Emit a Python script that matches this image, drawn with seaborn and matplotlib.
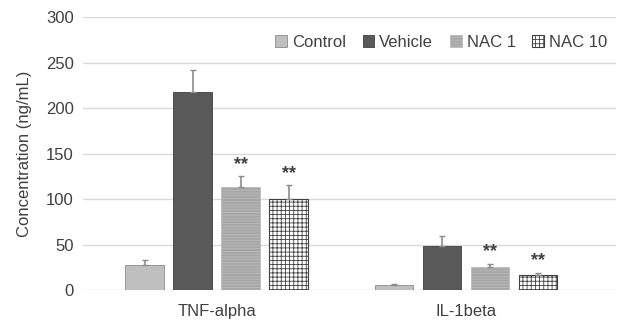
import numpy as np
import pandas as pd
import matplotlib
matplotlib.use("Agg")
import matplotlib.pyplot as plt
import seaborn as sns

cytokines = ["TNF-alpha", "IL-1beta"]
groups = ["Control", "Vehicle", "NAC 1", "NAC 10"]
tnf_mean = [28, 218, 113, 100]
tnf_err = [5, 24, 12, 15]
il1_mean = [5, 48, 25, 17]
il1_err = [1.5, 11, 4, 2]
stars = ["", "", "**", "**"]

df = pd.DataFrame({
    "cytokine": np.repeat(cytokines, len(groups)),
    "group": groups * 2,
    "conc": tnf_mean + il1_mean,
})
errs = {"TNF-alpha": tnf_err, "IL-1beta": il1_err}

sns.set_theme(style="white")
plt.rcParams["font.family"] = ["Liberation Sans", "DejaVu Sans"]
plt.rcParams["hatch.linewidth"] = 0.6

colors = ["#bfbfbf", "#595959", "#a6a6a6", "#ffffff"]

fig, ax = plt.subplots(figsize=(6.22, 3.27), dpi=100)
fig.subplots_adjust(left=0.134, right=0.99, top=0.948, bottom=0.113)

sns.barplot(data=df, x="cytokine", y="conc", hue="group", order=cytokines,
            hue_order=groups, palette=colors, width=0.77, gap=0.2,
            errorbar=None, ax=ax, zorder=2)
ax.get_legend().remove()

bar_sets = list(ax.containers)
for gi, cont in enumerate(bar_sets):
    for ci, bar in enumerate(cont):
        cx = bar.get_x() + bar.get_width() / 2
        h = bar.get_height()
        e = errs[cytokines[ci]][gi]
        if gi == 3:
            bar.set_facecolor("white")
            bar.set_edgecolor("#404040")
            bar.set_hatch("++++")
            bar.set_linewidth(0.8)
        elif gi == 2:
            bar.set_edgecolor("#bcbcbc")
            bar.set_hatch("------")
            bar.set_linewidth(0.6)
        else:
            bar.set_edgecolor("#8c8c8c" if gi == 0 else "#404040")
            bar.set_linewidth(0.6)
        ax.errorbar(cx, h, yerr=[[0], [e]], color="#8c8c8c", capsize=2.5,
                    elinewidth=1.2, capthick=1, zorder=3)
        if stars[gi]:
            ax.text(cx, h + e + 4, stars[gi], ha="center", va="bottom",
                    fontsize=13, fontweight="bold", color="#404040")

ax.set_ylim(0, 300)
ax.set_xlim(-0.534, 1.60)
ax.set_yticks(range(0, 301, 50))
ax.yaxis.grid(True, color="#d9d9d9", linewidth=1)
ax.set_axisbelow(True)
sns.despine(ax=ax, left=True, bottom=True)
ax.tick_params(axis="y", length=0, labelsize=12, colors="#404040", pad=7)
ax.tick_params(axis="x", length=0, labelsize=12, colors="#404040", pad=10)
ax.set_xlabel("")
ax.set_ylabel("Concentration (ng/mL)", fontsize=12, color="#404040", labelpad=10)

handles = [cont[0] for cont in bar_sets]
ax.legend(handles, groups, ncol=4, loc="upper right", bbox_to_anchor=(1.012, 0.99),
          frameon=False, fontsize=12, handlelength=0.7, handleheight=0.7,
          handletextpad=0.3, columnspacing=1.0, labelcolor="#404040")

fig.savefig("out.png", dpi=100)
